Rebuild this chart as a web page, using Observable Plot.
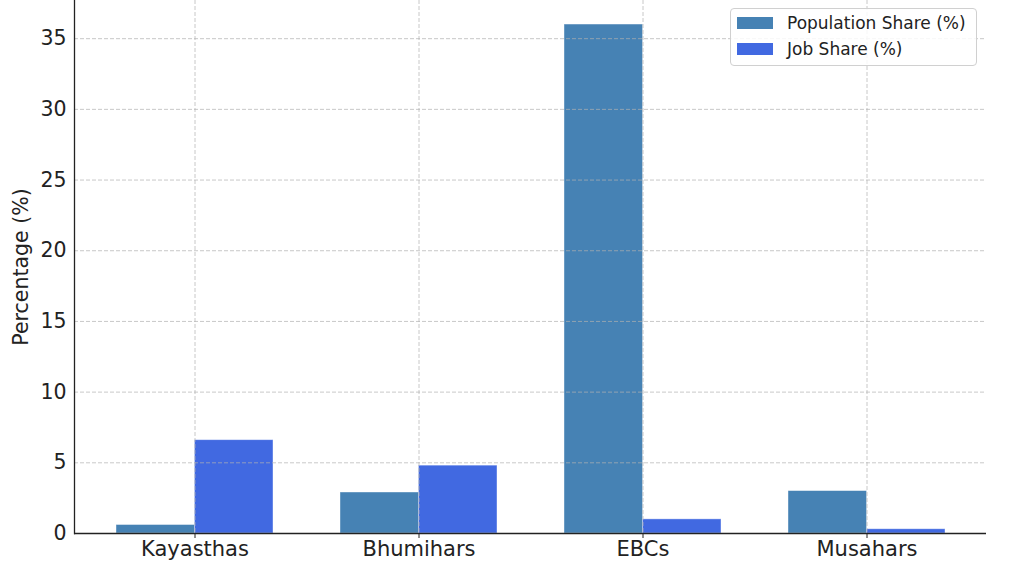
<!DOCTYPE html>
<html>
<head>
<meta charset="utf-8">
<script src="https://cdn.jsdelivr.net/npm/d3@7"></script>
<script src="https://cdn.jsdelivr.net/npm/@observablehq/plot@0.6"></script>
<style>
  html, body { margin: 0; padding: 0; background: #fff; }
  #wrap { position: relative; width: 1024px; height: 576px; font-family: "DejaVu Sans", sans-serif; }
  #legend {
    position: absolute; left: 730px; top: 8px; width: 247px; height: 58px;
    border: 1px solid #d0d0d0; border-radius: 4px; background: rgba(255,255,255,0.85);
    box-sizing: border-box; font-size: 17px; color: #222;
  }
  #legend .row { position: absolute; left: 6px; display: flex; align-items: center; }
  #legend .sw { width: 36px; height: 12px; margin-right: 14px; }
</style>
</head>
<body>
<div id="wrap">
  <div id="chart"></div>
  <div id="legend"></div>
</div>
<script>
const categories = ["Kayasthas", "Bhumihars", "EBCs", "Musahars"];
const populationShare = [0.6, 2.9, 36.0, 3.0];
const jobShare = [6.6, 4.8, 1.0, 0.3];
const seriesNames = ["Population Share (%)", "Job Share (%)"];
const seriesColors = ["#4682b4", "#4169e1"];
const yTicks = [0, 5, 10, 15, 20, 25, 30, 35];

const W = 1024, H = 576;
const mL = 74, mR = 38, mT = 0, mB = 43;
const padIn = 0.3, padOut = 0.1857;
const step = (W - mL - mR) / (categories.length - padIn + 2 * padOut);
const half = step * (1 - padIn) / 2;

const popData = categories.map((c, i) => ({cat: c, v: populationShare[i]}));
const jobData = categories.map((c, i) => ({cat: c, v: jobShare[i]}));

const gridStyle = {stroke: "#b0b0b0", strokeOpacity: 0.7, strokeDasharray: "4,2", strokeWidth: 1};

const chart = Plot.plot({
  width: W, height: H,
  marginLeft: mL, marginRight: mR, marginTop: mT, marginBottom: mB,
  style: {fontFamily: "DejaVu Sans, sans-serif", fontSize: "20px", color: "#222", background: "#fff"},
  x: {domain: categories, paddingInner: padIn, paddingOuter: padOut, label: null},
  y: {domain: [0, 37.7], label: null},
  marks: [
    Plot.barY(popData, {x: "cat", y: "v", fill: seriesColors[0], insetRight: half, insetLeft: 0, stroke: "#fff", strokeOpacity: 0.5, strokeWidth: 0.8}),
    Plot.barY(jobData, {x: "cat", y: "v", fill: seriesColors[1], insetLeft: half, insetRight: 0, stroke: "#fff", strokeOpacity: 0.5, strokeWidth: 0.8}),
    Plot.gridX({...gridStyle}),
    Plot.gridY(yTicks, {...gridStyle}),
    Plot.axisY(yTicks, {tickSize: 0, tickPadding: 8, fontSize: 20.5, label: "Percentage (%)", labelAnchor: "center", labelOffset: 61, labelArrow: "none"}),
    Plot.axisX({tickSize: 5, tickPadding: 3, fontSize: 21, label: null, stroke: "#222"}),
    Plot.frame({anchor: "left", stroke: "#222", strokeWidth: 1.3}),
    Plot.ruleY([0], {stroke: "#222", strokeWidth: 1.3})
  ]
});
document.getElementById("chart").appendChild(chart);

const legend = document.getElementById("legend");
seriesNames.forEach((name, i) => {
  const row = document.createElement("div");
  row.className = "row";
  row.style.top = (4 + i * 26) + "px";
  row.innerHTML = `<div class="sw" style="background:${seriesColors[i]}"></div><span>${name}</span>`;
  legend.appendChild(row);
});
</script>
</body>
</html>
